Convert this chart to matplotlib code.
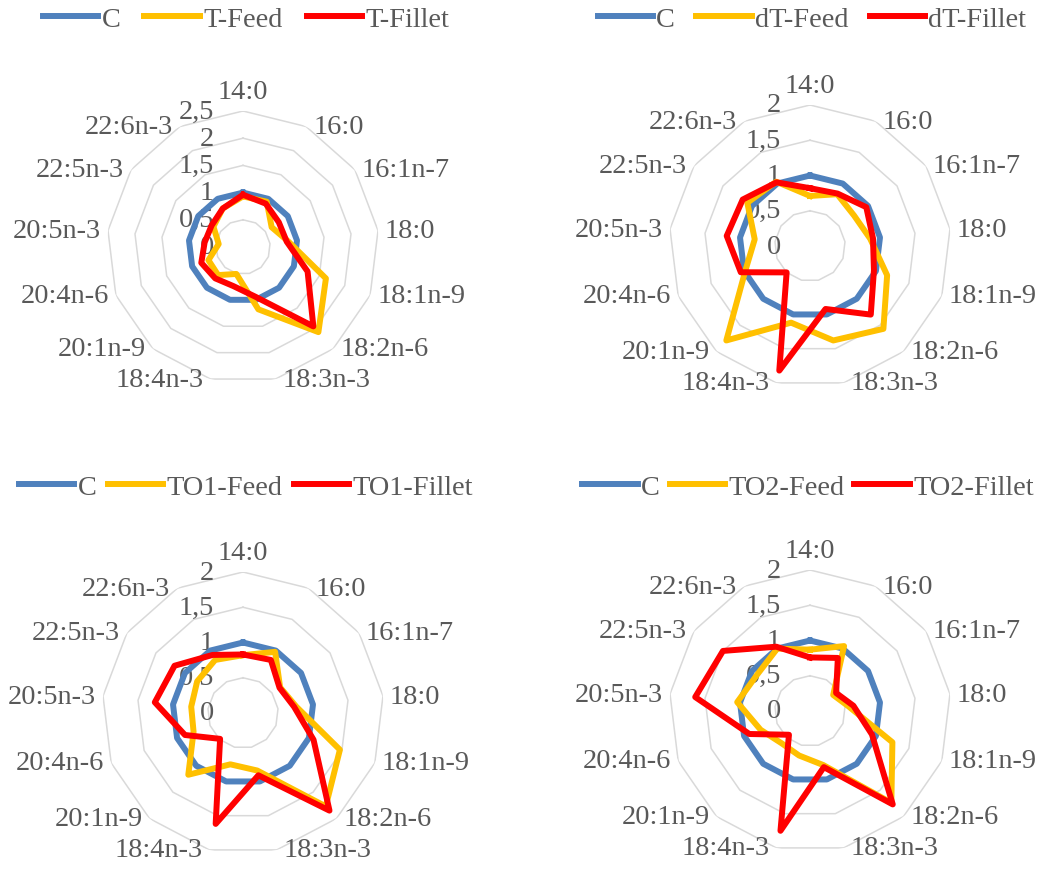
import numpy as np
import matplotlib
matplotlib.use("Agg")
import matplotlib.pyplot as plt
from matplotlib.transforms import offset_copy

# fatty acids, clockwise from the top
categories = ['14:0', '16:0', '16:1n-7', '18:0', '18:1n-9', '18:2n-6', '18:3n-3',
              '18:4n-3', '20:1n-9', '20:4n-6', '20:5n-3', '22:5n-3', '22:6n-3']

control = [1, 1, 1, 1, 1, 1, 1, 1, 1, 1, 1, 1, 1]

t_feed = [0.93, 0.94, 0.64, 0.84, 1.63, 2.09, 1.18, 0.51, 0.69, 0.68, 0.45, 0.66, 0.80]
t_fillet = [0.96, 0.90, 0.80, 0.81, 1.27, 1.95, 0.94, 0.74, 0.77, 0.82, 0.71, 0.70, 0.80]

dt_feed = [0.71, 0.83, 0.76, 0.86, 1.17, 1.57, 1.38, 1.12, 1.79, 0.98, 0.79, 1.08, 1.03]
dt_fillet = [0.82, 0.84, 0.97, 0.90, 0.97, 1.30, 0.92, 1.82, 0.50, 1.05, 1.19, 1.16, 1.02]

to1_feed = [0.82, 0.98, 0.64, 0.76, 1.47, 1.77, 0.84, 0.75, 1.17, 0.75, 0.74, 0.79, 0.85]
to1_fillet = [0.83, 0.85, 0.63, 0.73, 1.07, 1.85, 0.91, 1.62, 0.49, 0.88, 1.26, 1.18, 0.93]

to2_feed = [0.87, 1.04, 0.40, 0.55, 1.25, 1.74, 0.79, 0.65, 0.61, 0.75, 1.04, 0.91, 1.00]
to2_fillet = [0.76, 0.85, 0.45, 0.62, 0.94, 1.77, 0.82, 1.75, 0.45, 0.92, 1.64, 1.50, 1.03]

ticks_25 = [0, 0.5, 1, 1.5, 2, 2.5]
ticks_2 = [0, 0.5, 1, 1.5, 2]

W, H = 1043, 870
TXT = '#595959'
COLORS = ['#4F81BD', '#FFC000', '#FF0000']
plt.rcParams['font.family'] = ['Liberation Serif', 'DejaVu Serif']
FS = 20.4


def radar(fig, cx, cy, radius, ticks, series, names, leg_x, leg_y, colspace):
    ax = fig.add_axes([(cx - radius) / W, (H - cy - radius) / H, 2 * radius / W, 2 * radius / H],
                      projection='polar')
    ax.set_theta_zero_location('N')
    ax.set_theta_direction(-1)
    rmax = ticks[-1]
    ax.set_ylim(0, rmax)
    ax.axis('off')

    theta = np.linspace(0, 2 * np.pi, len(categories), endpoint=False)
    closed = np.append(theta, theta[0])

    # polygon grid rings
    for t in ticks[1:]:
        ax.plot(closed, [t] * len(closed), color='#D9D9D9', lw=1.1, zorder=1)

    for vals, name, col in zip(series, names, COLORS):
        ax.plot(closed, list(vals) + [vals[0]], color=col, lw=4.3, label=name, zorder=3)

    # value labels along the vertical axis
    tr = offset_copy(ax.transData, x=-29, y=0, units='dots')
    for t in ticks:
        lab = ('%g' % t).replace('.', ',')
        ax.text(0, t, lab, transform=tr, ha='right', va='center', fontsize=FS, color=TXT, zorder=2)

    # category labels
    pad = 7
    for ang, name in zip(theta, categories):
        s, c = np.sin(ang), np.cos(ang)
        if abs(s) < 0.1:
            ha, va = 'center', ('bottom' if c > 0 else 'top')
            dx, dy = 0, pad * np.sign(c)
        else:
            ha, va = ('left' if s > 0 else 'right'), 'center'
            dx, dy = pad * np.sign(s), 0
        ax.text(ang, rmax, name, transform=offset_copy(ax.transData, x=dx, y=dy, units='dots'),
                ha=ha, va=va, fontsize=FS, color=TXT)

    ax.legend(loc='center', bbox_to_anchor=(leg_x / W, 1 - leg_y / H), bbox_transform=fig.transFigure,
              ncol=3, frameon=False, handlelength=1.95, handletextpad=0.12, columnspacing=colspace,
              fontsize=FS, labelcolor=TXT)
    return ax


fig = plt.figure(figsize=(W / 100, H / 100), dpi=100)

radar(fig, 243, 248, 136, ticks_25, [control, t_feed, t_fillet], ['C', 'T-Feed', 'T-Fillet'],
      246, 20, 0.85)
radar(fig, 810, 247, 141, ticks_2, [control, dt_feed, dt_fillet], ['C', 'dT-Feed', 'dT-Fillet'],
      812, 20, 0.75)
radar(fig, 243, 714, 141, ticks_2, [control, to1_feed, to1_fillet], ['C', 'TO1-Feed', 'TO1-Fillet'],
      246, 488, 0.4)
radar(fig, 810, 712, 141, ticks_2, [control, to2_feed, to2_fillet], ['C', 'TO2-Feed', 'TO2-Fillet'],
      808, 488, 0.35)

fig.savefig('out.png', dpi=100)
